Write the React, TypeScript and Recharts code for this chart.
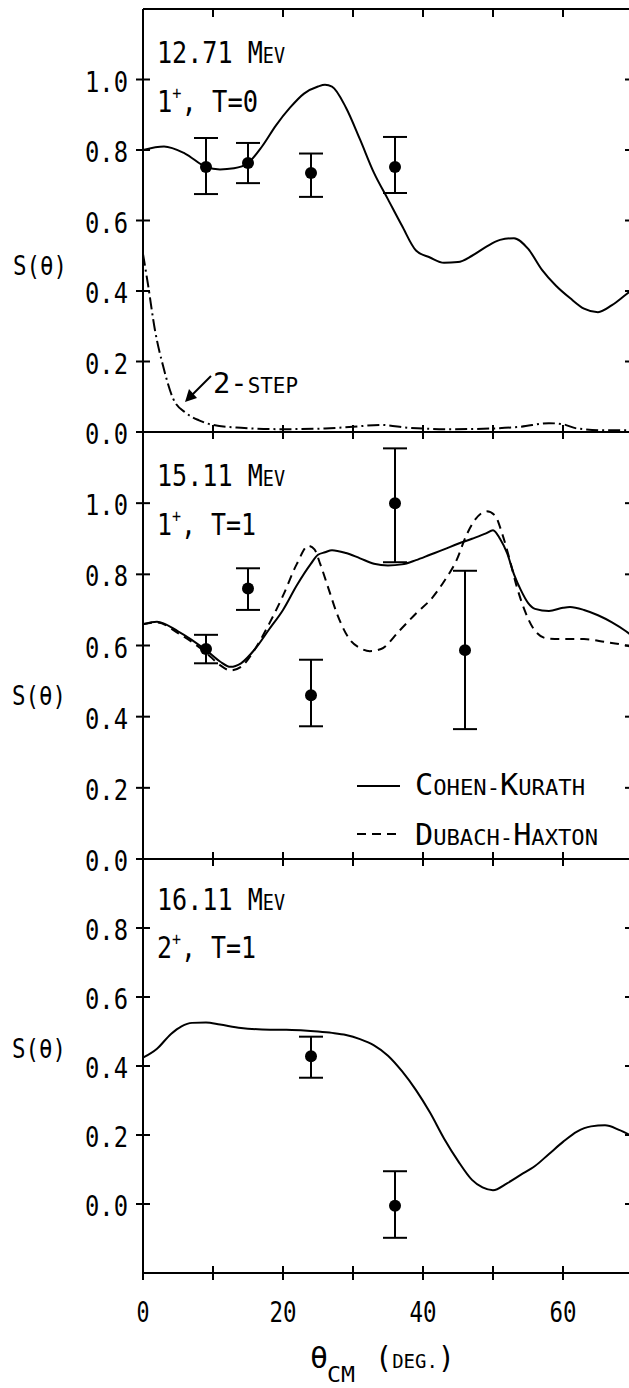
import { ComposedChart, Line, Scatter, ErrorBar, XAxis, YAxis, ReferenceLine } from 'recharts'

const FONT = '"DejaVu Sans Mono", monospace'

// 12.71 MeV, 1+, T=0
const ckAngle1 = [0, 3, 6, 9, 11, 13, 15, 17, 19, 21, 23, 25, 26, 27, 29, 31, 33, 35, 37, 39, 41, 43, 45, 47, 49, 51, 53, 55, 57, 59, 61, 63, 65, 67, 69, 70]
const ckValue1 = [0.8, 0.81, 0.79, 0.752, 0.745, 0.748, 0.763, 0.81, 0.87, 0.92, 0.96, 0.98, 0.985, 0.98, 0.92, 0.83, 0.735, 0.66, 0.585, 0.515, 0.495, 0.48, 0.482, 0.5, 0.525, 0.545, 0.55, 0.52, 0.46, 0.415, 0.38, 0.35, 0.34, 0.36, 0.39, 0.405]
const stepAngle1 = [0, 0.7, 1.7, 2.9, 4.3, 6.2, 8, 10, 14, 20, 26, 30, 34, 38, 44, 50, 54, 58, 60, 62, 66, 70]
const stepValue1 = [0.505, 0.42, 0.29, 0.185, 0.095, 0.053, 0.033, 0.02, 0.012, 0.008, 0.01, 0.015, 0.02, 0.012, 0.008, 0.01, 0.015, 0.025, 0.022, 0.01, 0.005, 0.005]
const expAngle1 = [9, 15, 24, 36]
const expValue1 = [0.752, 0.763, 0.735, 0.752]
const expHigh1 = [0.834, 0.82, 0.79, 0.837]
const expLow1 = [0.675, 0.706, 0.667, 0.678]

// 15.11 MeV, 1+, T=1
const ckAngle2 = [0, 2, 5, 9, 11, 12.5, 14, 16, 18, 20, 22, 24, 25, 26, 27, 29, 31, 33, 35, 37, 39, 41, 43, 45, 47, 49, 50, 51, 52, 53, 54, 55, 56, 58, 60, 61, 63, 65, 67, 69, 70]
const ckValue2 = [0.66, 0.667, 0.64, 0.587, 0.555, 0.54, 0.55, 0.59, 0.645, 0.7, 0.77, 0.83, 0.855, 0.862, 0.868, 0.86, 0.845, 0.83, 0.825, 0.828, 0.84, 0.855, 0.87, 0.886, 0.9, 0.915, 0.924, 0.9, 0.86, 0.8, 0.755, 0.72, 0.703, 0.697, 0.706, 0.708, 0.7, 0.685, 0.665, 0.64, 0.625]
const dhAngle2 = [0, 2, 5, 9, 11, 12.5, 14, 16, 18, 20, 22, 23.6, 24.5, 25.3, 26.5, 27.7, 29.6, 31, 32.4, 34, 36.7, 39, 41.4, 43, 44.8, 46.2, 47.5, 49.1, 50.3, 51.3, 52.4, 53.4, 54.5, 55.7, 57.7, 60, 63, 66, 69, 70]
const dhValue2 = [0.66, 0.665, 0.635, 0.58, 0.545, 0.53, 0.54, 0.59, 0.66, 0.74, 0.83, 0.88, 0.87, 0.83, 0.76, 0.69, 0.615, 0.593, 0.584, 0.59, 0.643, 0.69, 0.736, 0.78, 0.84, 0.91, 0.955, 0.977, 0.965, 0.915, 0.84, 0.765, 0.7, 0.65, 0.62, 0.618, 0.618, 0.61, 0.6, 0.595]
const expAngle2 = [9, 15, 24, 36, 46]
const expValue2 = [0.59, 0.76, 0.46, 1.0, 0.587]
const expHigh2 = [0.63, 0.817, 0.56, 1.154, 0.81]
const expLow2 = [0.55, 0.7, 0.373, 0.834, 0.365]

// 16.11 MeV, 2+, T=1
const ckAngle3 = [0, 2, 4, 5.5, 7, 9, 11, 14, 17, 20, 23, 25, 27, 29, 31, 33, 35, 37, 39, 41, 43, 45, 47, 48.5, 50, 52, 54, 56, 58, 60, 62, 64, 66, 68, 70]
const ckValue3 = [0.424, 0.45, 0.493, 0.515, 0.525, 0.526, 0.52, 0.51, 0.506, 0.505, 0.503, 0.5, 0.496, 0.49, 0.478, 0.46, 0.43, 0.385, 0.33, 0.265, 0.19, 0.125, 0.07, 0.048, 0.04, 0.06, 0.085, 0.11, 0.145, 0.18, 0.21, 0.225, 0.228, 0.215, 0.195]
const expAngle3 = [24, 36]
const expValue3 = [0.428, -0.005]
const expHigh3 = [0.485, 0.095]
const expLow3 = [0.366, -0.098]

const xTicks = [0, 10, 20, 30, 40, 50, 60, 70]
const yTicksFull = [0, 0.2, 0.4, 0.6, 0.8, 1.0]
const yTicksLow = [0, 0.2, 0.4, 0.6, 0.8]

const curve = (xs: number[], ys: number[]) => xs.map((x, i) => ({ x, y: ys[i] }))
const points = (xs: number[], ys: number[], hi: number[], lo: number[]) =>
  xs.map((x, i) => ({ x, y: ys[i], err: [ys[i] - lo[i], hi[i] - ys[i]] }))

const W = 640
const ink = { stroke: '#000', strokeWidth: 2 }

// plot frame shared by the three panels (left, right, and top/bottom of each panel)
const PLOT_L = 143
const PLOT_R = 633
const FRAMES = [
  { top: 9, bottom: 432, domain: [0, 1.2], ticks: yTicksFull },
  { top: 432, bottom: 859, domain: [0, 1.2], ticks: yTicksFull },
  { top: 859, bottom: 1273, domain: [-0.2, 1.0], ticks: yTicksLow },
]

const LeftLabel = (props: any) => {
  const { x, y, payload } = props
  return (
    <text x={x} y={y + 12} textAnchor="end" fontSize={29} fontFamily={FONT} textLength={43} lengthAdjust="spacingAndGlyphs" fill="#000">
      {Number(payload.value).toFixed(1)}
    </text>
  )
}

const BottomLabel = (props: any) => {
  const { x, y, payload, labels } = props
  const v = payload.value
  if (!labels || v % 20 !== 0 || v >= 70) return <g />
  return (
    <text x={x} y={y + 49} textAnchor="middle" fontSize={28} fontFamily={FONT} textLength={v === 0 ? 13 : 27} lengthAdjust="spacingAndGlyphs" fill="#000">
      {v}
    </text>
  )
}

const Dot = (props: any) => <circle cx={props.cx} cy={props.cy} r={6} fill="#000" />

type PanelProps = {
  top: number
  height: number
  marginTop: number
  axisHeight: number
  domain: [number, number]
  yTicks: number[]
  topAxis?: boolean
  labels?: boolean
  children: any
}

const Panel = ({ top, height, marginTop, axisHeight, domain, yTicks, topAxis, labels, children }: PanelProps) => (
  <div style={{ position: 'absolute', left: 0, top, width: W, height }}>
    <ComposedChart width={W} height={height} margin={{ top: marginTop, right: 7, bottom: 0, left: 0 }}>
      <XAxis
        type="number"
        dataKey="x"
        domain={[0, 70]}
        ticks={xTicks}
        interval={0}
        height={axisHeight}
        tickSize={0}
        tickMargin={0}
        tickLine={false}
        axisLine={ink}
        tick={<BottomLabel labels={labels} />}
        allowDataOverflow
      />
      <YAxis
        type="number"
        domain={domain}
        ticks={yTicks}
        interval={0}
        width={143}
        tickSize={0}
        tickMargin={15}
        tickLine={false}
        axisLine={ink}
        tick={<LeftLabel />}
        allowDataOverflow
      />
      {topAxis && <ReferenceLine y={domain[1]} {...ink} />}
      {children}
    </ComposedChart>
  </div>
)

// tick marks crossing the frame, at the same tick values as the axes
const TickMarks = () => {
  const xPix = (v: number) => PLOT_L + ((PLOT_R - PLOT_L) * v) / 70
  const marks: any[] = []
  FRAMES.forEach((f, i) => {
    const yPix = (v: number) => f.bottom - ((f.bottom - f.top) * (v - f.domain[0])) / (f.domain[1] - f.domain[0])
    f.ticks.forEach((v) => {
      const y = yPix(v)
      marks.push(<line key={`l${i}${v}`} x1={PLOT_L - 7} x2={PLOT_L + 7} y1={y} y2={y} {...ink} />)
      marks.push(<line key={`r${i}${v}`} x1={PLOT_R - 8} x2={PLOT_R} y1={y} y2={y} {...ink} />)
    })
    xTicks.forEach((v) => {
      const x = xPix(v)
      marks.push(<line key={`b${i}${v}`} x1={x} x2={x} y1={f.bottom - 7} y2={f.bottom + 7} {...ink} />)
      if (i === 0) marks.push(<line key={`t${v}`} x1={x} x2={x} y1={f.top} y2={f.top + 8} {...ink} />)
    })
  })
  return <g>{marks}</g>
}

const Small = ({ children }: any) => <tspan fontSize={22}>{children}</tspan>

const Annotations = () => (
  <svg width={629} height={1388} style={{ position: 'absolute', left: 0, top: 0, pointerEvents: 'none' }} fontFamily={FONT}>
    <TickMarks />

    {/* panel titles */}
    <text x={157} y={63} fontSize={30} textLength={128} lengthAdjust="spacingAndGlyphs">12.71 M<Small>EV</Small></text>
    <text x={157} y={112} fontSize={30} textLength={101} lengthAdjust="spacingAndGlyphs">1<tspan fontSize={18} dy={-13}>+</tspan><tspan dy={13}>, T=0</tspan></text>
    <text x={157} y={486} fontSize={30} textLength={128} lengthAdjust="spacingAndGlyphs">15.11 M<Small>EV</Small></text>
    <text x={157} y={535} fontSize={30} textLength={99} lengthAdjust="spacingAndGlyphs">1<tspan fontSize={18} dy={-13}>+</tspan><tspan dy={13}>, T=1</tspan></text>
    <text x={157} y={910} fontSize={30} textLength={128} lengthAdjust="spacingAndGlyphs">16.11 M<Small>EV</Small></text>
    <text x={157} y={958} fontSize={30} textLength={99} lengthAdjust="spacingAndGlyphs">2<tspan fontSize={18} dy={-13}>+</tspan><tspan dy={13}>, T=1</tspan></text>

    {/* y labels */}
    <text x={13} y={275} fontSize={26} textLength={54} lengthAdjust="spacingAndGlyphs">S(θ)</text>
    <text x={12} y={705} fontSize={26} textLength={54} lengthAdjust="spacingAndGlyphs">S(θ)</text>
    <text x={12} y={1058} fontSize={26} textLength={54} lengthAdjust="spacingAndGlyphs">S(θ)</text>

    {/* 2-step note */}
    <text x={213} y={393} fontSize={29} textLength={85} lengthAdjust="spacingAndGlyphs">2-<tspan fontSize={21}>STEP</tspan></text>
    <line x1={211} y1={376} x2={191} y2={396} stroke="#000" strokeWidth={2} />
    <polygon points="185,402 197,398 189,389" fill="#000" />

    {/* legend */}
    <line x1={357} x2={400} y1={786} y2={786} stroke="#000" strokeWidth={2} />
    <text x={415} y={795} fontSize={30} textLength={170} lengthAdjust="spacingAndGlyphs">C<Small>OHEN-</Small>K<Small>URATH</Small></text>
    <line x1={357} x2={400} y1={834} y2={834} stroke="#000" strokeWidth={2} strokeDasharray="9 6" />
    <text x={415} y={845} fontSize={30} textLength={183} lengthAdjust="spacingAndGlyphs">D<Small>UBACH-</Small>H<Small>AXTON</Small></text>

    {/* x title */}
    <text x={310} y={1368} fontSize={30}>θ</text>
    <text x={327} y={1382} fontSize={22} textLength={28} lengthAdjust="spacingAndGlyphs">CM</text>
    <text x={375} y={1368} fontSize={30} textLength={80} lengthAdjust="spacingAndGlyphs">(<tspan fontSize={20}>DEG.</tspan>)</text>
  </svg>
)

export default function App() {
  return (
    <div style={{ position: 'absolute', left: 0, top: 0, width: 629, height: 1388, overflow: 'hidden', background: '#fff' }}>
      <Panel top={0} height={447} marginTop={9} axisHeight={15} domain={[0, 1.2]} yTicks={yTicksFull} topAxis>
        <Line data={curve(ckAngle1, ckValue1)} dataKey="y" type="monotone" stroke="#000" strokeWidth={2} dot={false} isAnimationActive={false} />
        <Line data={curve(stepAngle1, stepValue1)} dataKey="y" type="monotone" stroke="#000" strokeWidth={2} strokeDasharray="12 4 2 4" dot={false} isAnimationActive={false} />
        <Scatter data={points(expAngle1, expValue1, expHigh1, expLow1)} dataKey="y" shape={<Dot />} isAnimationActive={false}>
          <ErrorBar dataKey="err" direction="y" width={12} stroke="#000" strokeWidth={2} isAnimationActive={false} />
        </Scatter>
      </Panel>
      <Panel top={422} height={452} marginTop={10} axisHeight={15} domain={[0, 1.2]} yTicks={yTicksFull}>
        <Line data={curve(ckAngle2, ckValue2)} dataKey="y" type="monotone" stroke="#000" strokeWidth={2} dot={false} isAnimationActive={false} />
        <Line data={curve(dhAngle2, dhValue2)} dataKey="y" type="monotone" stroke="#000" strokeWidth={2} strokeDasharray="9 6" dot={false} isAnimationActive={false} />
        <Scatter data={points(expAngle2, expValue2, expHigh2, expLow2)} dataKey="y" shape={<Dot />} isAnimationActive={false}>
          <ErrorBar dataKey="err" direction="y" width={12} stroke="#000" strokeWidth={2} isAnimationActive={false} />
        </Scatter>
      </Panel>
      <Panel top={849} height={539} marginTop={10} axisHeight={115} domain={[-0.2, 1.0]} yTicks={yTicksLow} labels>
        <Line data={curve(ckAngle3, ckValue3)} dataKey="y" type="monotone" stroke="#000" strokeWidth={2} dot={false} isAnimationActive={false} />
        <Scatter data={points(expAngle3, expValue3, expHigh3, expLow3)} dataKey="y" shape={<Dot />} isAnimationActive={false}>
          <ErrorBar dataKey="err" direction="y" width={12} stroke="#000" strokeWidth={2} isAnimationActive={false} />
        </Scatter>
      </Panel>
      <Annotations />
    </div>
  )
}
